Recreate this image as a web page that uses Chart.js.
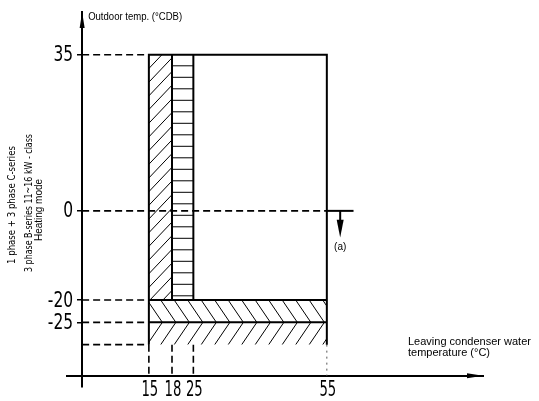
<!DOCTYPE html>
<html><head><meta charset="utf-8">
<script src="https://cdn.jsdelivr.net/npm/chart.js@4"></script>
<style>html,body{margin:0;padding:0;background:#fff;} canvas{display:block;}</style>
</head><body>
<canvas id="c" width="539" height="401"></canvas>
<script>
// ---- data ----
const waterTempTicks = [15, 18, 25, 55];          // leaving condenser water temp (°C)
const outdoorTempTicks = [35, 0, -20, -25];       // outdoor temp (°CDB)
const minOutdoorTemp = -30;                       // lower limit of the envelope
const xAxisCrossing = -37;                        // level where the x axis is drawn
// operating zones
const zoneWaterFrom   = [15, 18, 15, 15];
const zoneWaterTo     = [18, 25, 55, 55];
const zoneOutdoorFrom = [-20, -20, -25, -30];
const zoneOutdoorTo   = [35, 35, -20, -25];
const zoneHatch       = ['/', '-', '\\', '/'];
// note (a)
const noteLevel = 0;
const noteWater = [55, 61];
const noteArrowWater = 58;
const noteArrowTo = -6;
const noteLabel = '(a)';
// texts
const yTitle = 'Outdoor temp. (°CDB)';
const xTitle = ['Leaving condenser water', 'temperature (°C)'];
const sideNote = ['1 phase + 3 phase C-series', '3 phase B-series 11~16 kW - class', 'Heating mode'];

// The original x axis is drawn "not to scale" between 15 and 25 °C:
// a piecewise-linear scale reproduces that spacing while keeping true values.
const xSchematic = {from: [15, 18, 25], to: [15, 20.2, 25]};
function pw(v, a, b) {
  if (v == null || isNaN(v) || v <= a[0] || v >= a[a.length - 1]) return v;
  for (let i = 0; i < a.length - 1; i++) {
    if (v >= a[i] && v <= a[i + 1]) return b[i] + (v - a[i]) * (b[i + 1] - b[i]) / (a[i + 1] - a[i]);
  }
  return v;
}
class SchematicLinearScale extends Chart.LinearScale {
  getPixelForValue(v) { return super.getPixelForValue(pw(v, xSchematic.from, xSchematic.to)); }
  getValueForPixel(p) { return pw(super.getValueForPixel(p), xSchematic.to, xSchematic.from); }
}
SchematicLinearScale.id = 'schematicLinear';
SchematicLinearScale.defaults = Chart.LinearScale.defaults;
Chart.register(SchematicLinearScale);

const BLACK = '#000';
const textFam = "'Liberation Sans', Arial, sans-serif";
const narrowFam = "'Liberation Sans Narrow', 'DejaVu Sans Condensed', sans-serif";
const tickFontStr = "21px " + narrowFam;

function seg(points, extra) {
  return Object.assign({
    data: points.map(p => ({x: p[0], y: p[1]})),
    showLine: true, fill: false, pointRadius: 0, pointHoverRadius: 0,
    borderColor: BLACK, borderWidth: 2, tension: 0
  }, extra || {});
}

const wMin = waterTempTicks[0], wMax = waterTempTicks[waterTempTicks.length - 1];
const oMax = outdoorTempTicks[0];
const datasets = [];
// envelope outline
datasets.push(seg([[wMin, minOutdoorTemp], [wMin, oMax], [wMax, oMax], [wMax, minOutdoorTemp]]));
// inner zone borders
datasets.push(seg([[waterTempTicks[1], zoneOutdoorFrom[0]], [waterTempTicks[1], oMax]]));
datasets.push(seg([[waterTempTicks[2], zoneOutdoorFrom[1]], [waterTempTicks[2], oMax]]));
datasets.push(seg([[wMin, outdoorTempTicks[2]], [wMax, outdoorTempTicks[2]]]));
datasets.push(seg([[wMin, outdoorTempTicks[3]], [wMax, outdoorTempTicks[3]]]));
// dashed reference lines (horizontal)
const dash = {borderWidth: 1.6, borderDash: [7, 4]};
[...outdoorTempTicks, minOutdoorTemp].forEach(v => {
  datasets.push(seg([[0, v], [v === noteLevel ? wMax : wMin, v]], dash));
});
// dashed reference lines (vertical, down to x axis)
waterTempTicks.forEach(w => {
  datasets.push(seg([[w, minOutdoorTemp], [w, xAxisCrossing]],
    w === wMax ? {borderWidth: 1, borderDash: [2, 4], borderColor: '#555'} : dash));
});
// note line
datasets.push(seg([[noteWater[0], noteLevel], [noteWater[1], noteLevel]]));

function narrowText(ctx, text, x, y, align, sx) {
  ctx.save();
  ctx.translate(x, y);
  ctx.scale(sx, 1);
  ctx.font = tickFontStr;
  ctx.textAlign = align;
  ctx.textBaseline = 'middle';
  ctx.fillText(text, 0, 0);
  ctx.restore();
}

const drawPlugin = {
  id: 'drawExtras',
  beforeDatasetsDraw(chart) {
    const {ctx, scales: {x, y}} = chart;
    ctx.save();
    ctx.strokeStyle = BLACK;
    ctx.lineWidth = 1;
    for (let i = 0; i < zoneHatch.length; i++) {
      const L = x.getPixelForValue(zoneWaterFrom[i]), R = x.getPixelForValue(zoneWaterTo[i]);
      const T = y.getPixelForValue(zoneOutdoorTo[i]), B = y.getPixelForValue(zoneOutdoorFrom[i]);
      ctx.save();
      ctx.beginPath(); ctx.rect(L, T, R - L, B - T); ctx.clip();
      ctx.beginPath();
      const kind = zoneHatch[i];
      if (kind === '-') {
        for (let yy = T + 11; yy < B - 2; yy += 11.5) { ctx.moveTo(L, yy); ctx.lineTo(R, yy); }
      } else {
        const h = B - T;
        const run = (i === 0) ? 0.95 : 0.68;
        const sp = (i === 0) ? 13 : 13.5;
        for (let c = L - h * run - sp; c < R + sp; c += sp) {
          if (kind === '/') { ctx.moveTo(c, B); ctx.lineTo(c + h * run, T); }
          else { ctx.moveTo(c, T); ctx.lineTo(c + h * run, B); }
        }
      }
      ctx.stroke();
      ctx.restore();
    }
    ctx.restore();
  },
  afterDraw(chart) {
    const {ctx, chartArea, scales: {x, y}} = chart;
    ctx.save();
    ctx.fillStyle = BLACK;
    ctx.strokeStyle = BLACK;
    const ax = x.getPixelForValue(0);
    const ay = y.getPixelForValue(xAxisCrossing);
    // tick labels
    outdoorTempTicks.forEach(v => narrowText(ctx, String(v), ax - 9, y.getPixelForValue(v) + 1, 'right', 0.82));
    waterTempTicks.forEach(w => narrowText(ctx, String(w), x.getPixelForValue(w) + 1, ay + 15, 'center', 0.7));
    // y axis arrow
    ctx.beginPath();
    ctx.moveTo(ax, chartArea.top); ctx.lineTo(ax - 2.5, chartArea.top + 16); ctx.lineTo(ax + 2.5, chartArea.top + 16);
    ctx.closePath(); ctx.fill();
    // x axis arrow
    ctx.beginPath();
    ctx.moveTo(chartArea.right, ay); ctx.lineTo(chartArea.right - 16, ay - 2.5); ctx.lineTo(chartArea.right - 16, ay + 2.5);
    ctx.closePath(); ctx.fill();
    // note arrow
    const nx = x.getPixelForValue(noteArrowWater);
    const n0 = y.getPixelForValue(noteLevel), n1 = y.getPixelForValue(noteArrowTo);
    ctx.lineWidth = 2;
    ctx.beginPath(); ctx.moveTo(nx, n0); ctx.lineTo(nx, n0 + 10); ctx.stroke();
    ctx.beginPath(); ctx.moveTo(nx - 3.5, n0 + 9); ctx.lineTo(nx + 3.5, n0 + 9); ctx.lineTo(nx, n1); ctx.closePath(); ctx.fill();
    ctx.font = '10px ' + textFam;
    ctx.textAlign = 'center'; ctx.textBaseline = 'middle';
    ctx.fillText(noteLabel, nx, n1 + 10);
    // axis titles
    ctx.font = '11px ' + textFam;
    ctx.textAlign = 'left';
    ctx.fillText(yTitle, ax + 6, chartArea.top + 5, 94);
    ctx.fillText(xTitle[0], 408, 342, 129);
    ctx.fillText(xTitle[1], 408, 353);
    // rotated side note
    const sx = [12, 29, 39], sy = [205, 203, 210], sw = [118, 138, 62];
    ctx.textAlign = 'center';
    sideNote.forEach((t, i) => {
      ctx.save();
      ctx.translate(sx[i], sy[i]);
      ctx.rotate(-Math.PI / 2);
      ctx.font = (i === 2 ? '10.5px ' + textFam : '10px ' + narrowFam);
      ctx.fillText(t, 0, 0, sw[i]);
      ctx.restore();
    });
    ctx.restore();
  }
};

new Chart(document.getElementById('c'), {
  type: 'scatter',
  data: {datasets},
  plugins: [drawPlugin],
  options: {
    responsive: false,
    animation: false,
    devicePixelRatio: 1,
    layout: {padding: {left: 67, right: 56, top: 12, bottom: 14}},
    plugins: {legend: {display: false}, tooltip: {enabled: false}},
    scales: {
      x: {
        type: 'schematicLinear', min: -3.4, max: 90.1,
        position: {y: xAxisCrossing},
        afterBuildTicks: s => { s.ticks = waterTempTicks.map(v => ({value: v})); },
        grid: {display: true, drawOnChartArea: false, drawTicks: false},
        border: {display: true, color: BLACK, width: 2},
        ticks: {display: false}
      },
      y: {
        type: 'linear', min: -39.5, max: 44.6,
        position: {x: 0},
        afterBuildTicks: s => { s.ticks = outdoorTempTicks.map(v => ({value: v})); },
        grid: {display: true, drawOnChartArea: false, drawTicks: true, tickLength: 4, color: BLACK, lineWidth: 1.5},
        border: {display: true, color: BLACK, width: 2},
        ticks: {display: false}
      }
    }
  }
});
</script>
</body></html>
